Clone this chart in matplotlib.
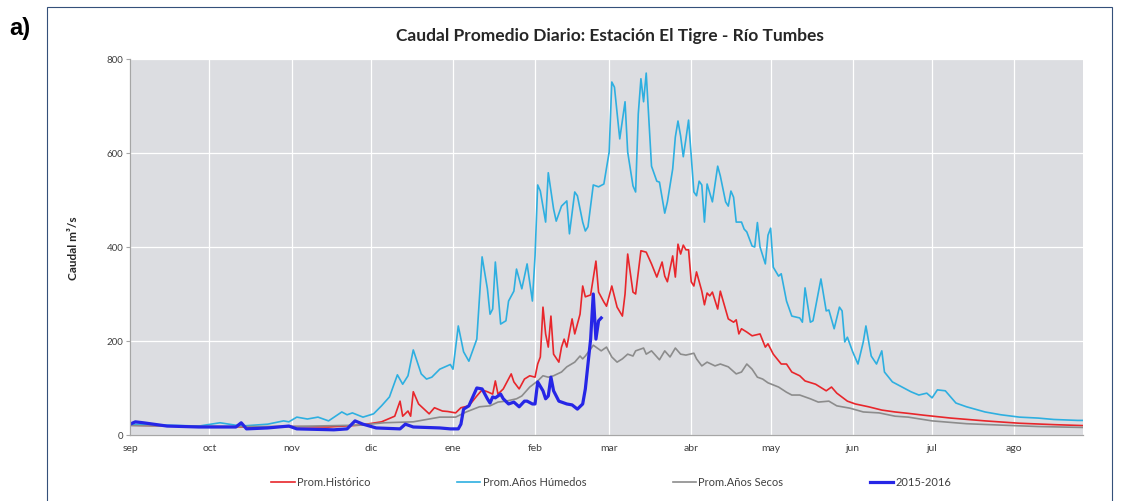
import matplotlib
matplotlib.use("Agg")
import matplotlib.pyplot as plt
from matplotlib.patches import Rectangle

# Month labels (hydrological year, September to August) and their start day
meses = ["sep", "oct", "nov", "dic", "ene", "feb", "mar", "abr", "may", "jun", "jul", "ago"]
inicio_mes = [0, 30, 61, 91, 122, 153, 181, 212, 242, 273, 303, 334]

# Prom.Histórico: day of hydrological year, flow (m3/s)
hist_dia = [0, 15, 30, 45, 60, 75, 87, 95, 100, 102, 103, 105, 106, 107, 109, 113, 115, 118, 120, 123,
            125, 128, 131, 133, 135, 137, 138, 139, 141, 144, 145, 147, 149, 151, 153, 154, 155, 156, 157, 158,
            159, 160, 162, 163, 164, 165, 167, 168, 170, 171, 172, 174, 176, 177, 179, 180, 182, 184, 186, 187,
            188, 190, 191, 193, 195, 197, 199, 201, 202, 203, 205, 206, 207, 208, 209, 210, 211, 212, 213, 214,
            216, 217, 218, 219, 220, 222, 223, 226, 228, 229, 230, 231, 233, 235, 238, 240, 241, 243, 246, 248,
            250, 253, 255, 259, 263, 265, 267, 271, 274, 279, 284, 289, 294, 300, 310, 323, 336, 349, 360]
hist_q = [21, 19, 18, 17, 18, 17, 21, 28, 40, 72, 40, 51, 40, 92, 66, 45, 58, 51, 50, 47,
          58, 62, 83, 96, 92, 87, 115, 87, 98, 130, 113, 98, 119, 126, 123, 151, 166, 272, 215, 187,
          253, 172, 155, 187, 204, 187, 247, 215, 257, 317, 294, 298, 370, 304, 283, 274, 317, 272, 253, 300,
          385, 304, 300, 392, 389, 364, 336, 368, 338, 326, 381, 336, 406, 385, 404, 394, 394, 326, 317, 347,
          306, 277, 302, 296, 304, 268, 306, 247, 240, 245, 215, 226, 219, 211, 215, 187, 194, 172, 151, 151,
          134, 126, 115, 108, 94, 102, 89, 72, 66, 60, 53, 49, 46, 42, 36, 30, 25, 22, 20]

# Prom.Años Húmedos
hum_dia = [0, 26, 34, 42, 52, 58, 60, 63, 67, 71, 75, 80, 82, 84, 88, 92, 95, 98, 101, 103,
           105, 107, 110, 112, 114, 117, 121, 122, 124, 126, 128, 131, 133, 135, 136, 137, 138, 139, 140, 142,
           143, 145, 146, 148, 150, 152, 153, 154, 155, 157, 158, 160, 161, 163, 165, 166, 168, 169, 171, 172,
           173, 175, 177, 179, 181, 182, 183, 185, 187, 188, 190, 191, 192, 193, 194, 195, 196, 197, 199, 200,
           202, 203, 205, 206, 207, 208, 209, 210, 211, 212, 213, 214, 215, 216, 217, 218, 220, 222, 223, 225,
           226, 227, 228, 229, 231, 232, 233, 235, 236, 237, 238, 240, 241, 242, 243, 245, 246, 248, 250, 253,
           254, 255, 257, 258, 261, 263, 264, 266, 268, 269, 270, 271, 273, 275, 277, 278, 280, 282, 284, 285,
           288, 291, 295, 298, 301, 303, 305, 308, 312, 316, 323, 329, 336, 343, 349, 358, 360]
hum_q = [23, 19, 26, 19, 23, 30, 28, 38, 34, 38, 30, 49, 43, 47, 38, 45, 62, 81, 128, 108,
         126, 181, 130, 119, 123, 140, 150, 140, 232, 177, 157, 204, 379, 311, 257, 268, 368, 304, 236, 243,
         285, 306, 353, 311, 364, 285, 381, 532, 519, 453, 558, 481, 455, 487, 498, 428, 517, 509, 453, 434,
         443, 532, 528, 534, 602, 751, 740, 630, 709, 602, 530, 517, 683, 758, 709, 770, 672, 572, 540, 538,
         472, 496, 566, 634, 668, 636, 592, 630, 670, 594, 517, 509, 540, 532, 453, 534, 496, 572, 551, 496,
         487, 519, 506, 453, 453, 438, 432, 402, 400, 452, 400, 364, 425, 440, 357, 338, 343, 285, 253, 249,
         240, 313, 240, 243, 332, 264, 266, 226, 272, 264, 198, 208, 177, 151, 198, 232, 168, 151, 179, 134,
         113, 104, 92, 85, 89, 79, 96, 94, 68, 60, 49, 43, 38, 36, 33, 31, 31]

# Prom.Años Secos
sec_dia = [0, 30, 60, 87, 96, 107, 112, 117, 123, 127, 132, 136, 139, 142, 146, 148, 151, 154, 156, 158,
           160, 163, 165, 168, 170, 171, 172, 174, 175, 177, 178, 180, 182, 184, 186, 188, 190, 191, 194, 195,
           197, 200, 202, 204, 206, 208, 210, 213, 214, 216, 218, 221, 223, 226, 229, 231, 233, 235, 237, 239,
           241, 245, 248, 250, 253, 257, 260, 264, 267, 272, 277, 283, 289, 294, 303, 316, 329, 343, 360]
sec_q = [20, 18, 18, 21, 26, 28, 33, 38, 38, 49, 60, 62, 70, 72, 77, 83, 102, 115, 126, 123,
         126, 134, 145, 155, 168, 162, 168, 183, 191, 183, 179, 187, 166, 155, 162, 172, 168, 179, 185, 172,
         179, 160, 179, 166, 185, 172, 170, 174, 162, 147, 155, 147, 151, 145, 130, 134, 151, 140, 123, 119,
         111, 102, 91, 85, 85, 77, 70, 72, 62, 57, 49, 47, 40, 38, 30, 24, 21, 18, 16]

# 2015-2016
anio_dia = [0, 2, 5, 14, 26, 40, 42, 44, 52, 60, 63, 77, 82, 85, 88, 93, 102, 104, 107, 117,
            121, 124, 125, 126, 128, 131, 133, 135, 136, 137, 138, 140, 141, 143, 145, 147, 149, 150, 152, 153,
            154, 156, 157, 158, 159, 160, 162, 165, 167, 169, 171, 172, 174, 175, 176, 177, 178]
anio_q = [23, 28, 26, 19, 17, 17, 26, 13, 15, 19, 13, 11, 13, 30, 23, 15, 13, 23, 17, 15,
          13, 13, 23, 55, 62, 100, 98, 77, 68, 81, 79, 87, 77, 66, 70, 60, 72, 72, 66, 66,
          113, 94, 77, 83, 123, 94, 72, 66, 64, 55, 66, 98, 204, 300, 204, 243, 249]

series = [
    ("Prom.Histórico", hist_dia, hist_q, "#e8262b", 1.2),
    ("Prom.Años Húmedos", hum_dia, hum_q, "#2eafe0", 1.2),
    ("Prom.Años Secos", sec_dia, sec_q, "#8c8c8c", 1.2),
    ("2015-2016", anio_dia, anio_q, "#2626e6", 2.3),
]

FONT = ["Lato", "DejaVu Sans"]
plt.rcParams["font.family"] = FONT

fig = plt.figure(figsize=(11.24, 5.02), dpi=100)
fig.patch.set_facecolor("white")

ax = fig.add_axes([0.1157, 0.1315, 0.8478, 0.749])
ax.set_facecolor("#dcdde1")
for nombre, d, q, color, lw in series:
    ax.plot(d, q, color=color, lw=lw, label=nombre, solid_joinstyle="round")

ax.set_xlim(0, 360)
ax.set_ylim(0, 800)
ax.set_xticks(inicio_mes)
ax.set_xticklabels(meses)
ax.set_yticks(range(0, 801, 200))
ax.grid(True, color="white", lw=0.9)
ax.set_axisbelow(True)
for s in ["top", "right"]:
    ax.spines[s].set_visible(False)
for s in ["left", "bottom"]:
    ax.spines[s].set_color("#a6a6a6")
    ax.spines[s].set_linewidth(0.9)
ax.tick_params(axis="y", length=3, width=0.8, color="#a6a6a6", labelsize=7,
               labelcolor="#404040", pad=2)
ax.tick_params(axis="x", length=0, labelsize=7.5, labelcolor="#404040", pad=6)

ax.set_ylabel("Caudal m³/s", fontsize=8.5, fontweight="bold", color="#262626", labelpad=20)

fig.text(0.543, 0.928, "Caudal Promedio Diario: Estación El Tigre - Río Tumbes",
         ha="center", va="center", fontsize=12.5, fontweight="bold", color="#262626")

fig.legend(loc="center", bbox_to_anchor=(0.544, 0.038), ncol=4, frameon=False,
           fontsize=8, handlelength=2.1, handletextpad=0.2, columnspacing=7.8,
           labelcolor="#404040")

fig.text(0.008, 0.944, "a)", ha="left", va="center", fontsize=17, fontweight="bold",
         family=["Liberation Sans", "DejaVu Sans"], color="black")

fig.add_artist(Rectangle((0.0418, -0.01), 0.9472, 0.994, transform=fig.transFigure,
                         fill=False, edgecolor="#34507a", lw=0.8))

fig.savefig("out.png", dpi=100, facecolor="white")
